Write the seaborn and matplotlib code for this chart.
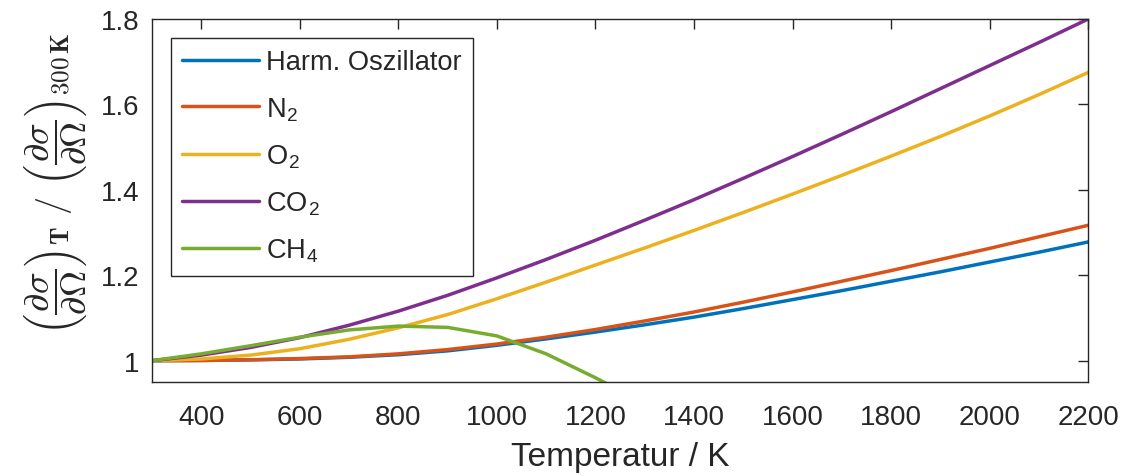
import numpy as np
import pandas as pd
import seaborn as sns
import matplotlib.pyplot as plt
from matplotlib.ticker import FormatStrFormatter

# temperatures (K)
temps = [300, 400, 500, 600, 700, 800, 900, 1000, 1100, 1200, 1300,
         1400, 1500, 1600, 1700, 1800, 1900, 2000, 2100, 2200]
harm = [1.0, 1.0005, 1.002, 1.004, 1.008, 1.014, 1.023, 1.036, 1.051, 1.067, 1.084,
        1.102, 1.122, 1.143, 1.164, 1.186, 1.208, 1.231, 1.254, 1.278]
n2 = [1.0, 1.0005, 1.002, 1.005, 1.009, 1.016, 1.026, 1.039, 1.055, 1.073, 1.093,
      1.114, 1.137, 1.161, 1.186, 1.211, 1.237, 1.263, 1.290, 1.317]
o2 = [1.0, 1.004, 1.013, 1.028, 1.050, 1.077, 1.108, 1.145, 1.184, 1.224, 1.264,
      1.305, 1.347, 1.390, 1.434, 1.479, 1.525, 1.573, 1.623, 1.675]
co2 = [1.0, 1.013, 1.031, 1.054, 1.083, 1.116, 1.153, 1.194, 1.237, 1.282, 1.329,
       1.377, 1.427, 1.478, 1.530, 1.583, 1.637, 1.691, 1.745, 1.800]
# CH4 only given up to 1300 K
temps_ch4 = [300, 400, 500, 600, 700, 800, 900, 1000, 1100, 1200, 1300]
ch4 = [1.0, 1.016, 1.035, 1.055, 1.072, 1.081, 1.078, 1.058, 1.016, 0.960, 0.900]

labels = ['Harm. Oszillator', r'N$_\mathregular{2}$', r'O$_\mathregular{2}$',
          r'CO$_\mathregular{2}$', r'CH$_\mathregular{4}$']
colors = ['#0072BD', '#D95319', '#EDB120', '#7E2F8E', '#77AC30']

frames = []
for lab, vals in zip(labels[:4], [harm, n2, o2, co2]):
    frames.append(pd.DataFrame({'T': temps, 'ratio': vals, 'gas': lab}))
frames.append(pd.DataFrame({'T': temps_ch4, 'ratio': ch4, 'gas': labels[4]}))
df = pd.concat(frames, ignore_index=True)

sns.set_style('white')
plt.rcParams['font.family'] = ['Liberation Sans', 'DejaVu Sans']
plt.rcParams['mathtext.fontset'] = 'cm'

fig, ax = plt.subplots(figsize=(11.3, 4.77), dpi=100)
fig.subplots_adjust(left=0.1345, right=0.963, top=0.958, bottom=0.197)

sns.lineplot(data=df, x='T', y='ratio', hue='gas', hue_order=labels,
             palette=colors, linewidth=2.5, ax=ax, sort=False)

ax.set_xlim(300, 2200)
ax.set_ylim(0.95, 1.8)
ax.set_xticks(np.arange(400, 2201, 200))
ax.set_yticks([1.0, 1.2, 1.4, 1.6, 1.8])
ax.yaxis.set_major_formatter(FormatStrFormatter('%g'))

for s in ax.spines.values():
    s.set_color('#262626')
    s.set_linewidth(1.0)
ax.tick_params(direction='in', top=True, right=True, length=7, width=1,
               color='#262626', labelsize=20, labelcolor='#262626')
ax.tick_params(axis='x', pad=16)
ax.tick_params(axis='y', pad=9)

ax.set_xlabel('Temperatur / K', fontsize=24, color='#262626', labelpad=8)
ax.set_ylabel(r'$\left(\dfrac{\partial\sigma}{\partial\mathbf{\Omega}}\right)_{\mathbf{T}}'
              r'\ /\ \left(\dfrac{\partial\sigma}{\partial\mathbf{\Omega}}\right)_{\mathbf{300\,K}}$',
              fontsize=26, color='#262626')
ax.yaxis.set_label_coords(-0.066, 0.55)

leg = ax.legend(loc='upper left', bbox_to_anchor=(0.0203, 0.948), fontsize=19.6,
                handlelength=2.8, handletextpad=0.26, labelspacing=0.72,
                frameon=True, fancybox=False, framealpha=1, borderpad=0.42,
                borderaxespad=0)
leg.get_frame().set_edgecolor('#262626')
leg.get_frame().set_linewidth(1.0)
for line in leg.get_lines():
    line.set_linewidth(2.5)

plt.savefig('out.png', dpi=100)
